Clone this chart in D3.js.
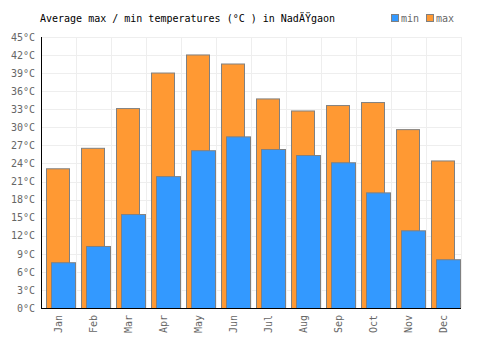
<!DOCTYPE html>
<html>
<head>
<meta charset="utf-8">
<script src="https://cdn.jsdelivr.net/npm/d3@7"></script>
<style>
  body { margin: 0; background: #fff; }
  text { font-family: "DejaVu Sans Mono", monospace; font-size: 10px; }
</style>
</head>
<body>
<div id="chart"></div>
<script>
// data
var months = ["Jan","Feb","Mar","Apr","May","Jun","Jul","Aug","Sep","Oct","Nov","Dec"];
var maxTemps = [23.2, 26.6, 33.2, 39.1, 42.1, 40.6, 34.8, 32.8, 33.7, 34.2, 29.7, 24.5];
var minTemps = [7.6, 10.3, 15.6, 21.9, 26.2, 28.5, 26.4, 25.4, 24.2, 19.2, 12.9, 8.1];
var yTicks = [0, 3, 6, 9, 12, 15, 18, 21, 24, 27, 30, 33, 36, 39, 42, 45];

var margin = {top: 37, right: 39, bottom: 42, left: 41},
    width = 500 - margin.left - margin.right,
    height = 350 - margin.top - margin.bottom;

var svg = d3.select("#chart")
  .append("svg")
    .attr("width", 500)
    .attr("height", 350);

var g = svg.append("g")
    .attr("transform", "translate(" + margin.left + "," + margin.top + ")");

var x = d3.scaleBand()
  .domain(months)
  .range([0, width]);

var y = d3.scaleLinear()
  .domain([0, 45])
  .range([height, 0]);

// grid
g.selectAll(".hgrid")
  .data(yTicks)
  .enter().append("line")
    .attr("x1", 0).attr("x2", width)
    .attr("y1", function(d) { return Math.round(y(d)) + 0.5; })
    .attr("y2", function(d) { return Math.round(y(d)) + 0.5; })
    .attr("stroke", "#eeeeee");

g.selectAll(".vgrid")
  .data(months.slice(1).concat(["end"]))
  .enter().append("line")
    .attr("x1", function(d, i) { return Math.round(x.step() * (i + 1)) + 0.5; })
    .attr("x2", function(d, i) { return Math.round(x.step() * (i + 1)) + 0.5; })
    .attr("y1", 0).attr("y2", height)
    .attr("stroke", "#eeeeee");

// max bars
g.selectAll(".maxbar")
  .data(maxTemps)
  .enter().append("rect")
    .attr("x", function(d, i) { return x(months[i]) + 5.5; })
    .attr("y", function(d) { return y(d) + 0.5; })
    .attr("width", 23)
    .attr("height", function(d) { return height - y(d); })
    .attr("fill", "#ff9933")
    .attr("stroke", "#808080")
    .attr("stroke-width", 1);

// min bars
g.selectAll(".minbar")
  .data(minTemps)
  .enter().append("rect")
    .attr("x", function(d, i) { return x(months[i]) + 10.5; })
    .attr("y", function(d) { return y(d) + 0.5; })
    .attr("width", 24)
    .attr("height", function(d) { return height - y(d); })
    .attr("fill", "#3399ff")
    .attr("stroke", "#808080")
    .attr("stroke-width", 1);

// axes
var yAxis = g.append("g")
  .call(d3.axisLeft(y).tickValues(yTicks).tickSize(0).tickPadding(6)
    .tickFormat(function(d) { return d + "°C"; }));
yAxis.select(".domain").remove();
yAxis.selectAll("text").attr("fill", "#666").style("font-size", "10px");

var xAxis = g.append("g")
  .attr("transform", "translate(0," + height + ")")
  .call(d3.axisBottom(x).tickSize(0));
xAxis.select(".domain").remove();
xAxis.selectAll("text")
  .attr("fill", "#666")
  .style("font-size", "10px")
  .style("text-anchor", "end")
  .attr("transform", "rotate(-90)")
  .attr("x", -7)
  .attr("y", 0)
  .attr("dy", "0.35em");

g.append("line")
  .attr("x1", 0.5).attr("x2", 0.5).attr("y1", 0).attr("y2", height)
  .attr("stroke", "#000");
g.append("line")
  .attr("x1", 0).attr("x2", width).attr("y1", height + 0.5).attr("y2", height + 0.5)
  .attr("stroke", "#000");

// title
svg.append("text")
  .attr("x", 40)
  .attr("y", 22)
  .attr("fill", "#000")
  .text("Average max / min temperatures (°C ) in NadÄŸgaon");

// legend
var legend = [{name: "min", color: "#3399ff", x: 391}, {name: "max", color: "#ff9933", x: 426}];
var lg = svg.selectAll(".legend")
  .data(legend)
  .enter().append("g");
lg.append("rect")
  .attr("x", function(d) { return d.x + 0.5; })
  .attr("y", 14.5)
  .attr("width", 7)
  .attr("height", 7)
  .attr("fill", function(d) { return d.color; })
  .attr("stroke", "#808080");
lg.append("text")
  .attr("x", function(d) { return d.x + 10; })
  .attr("y", 22)
  .attr("fill", "#666")
  .text(function(d) { return d.name; });
</script>
</body>
</html>
